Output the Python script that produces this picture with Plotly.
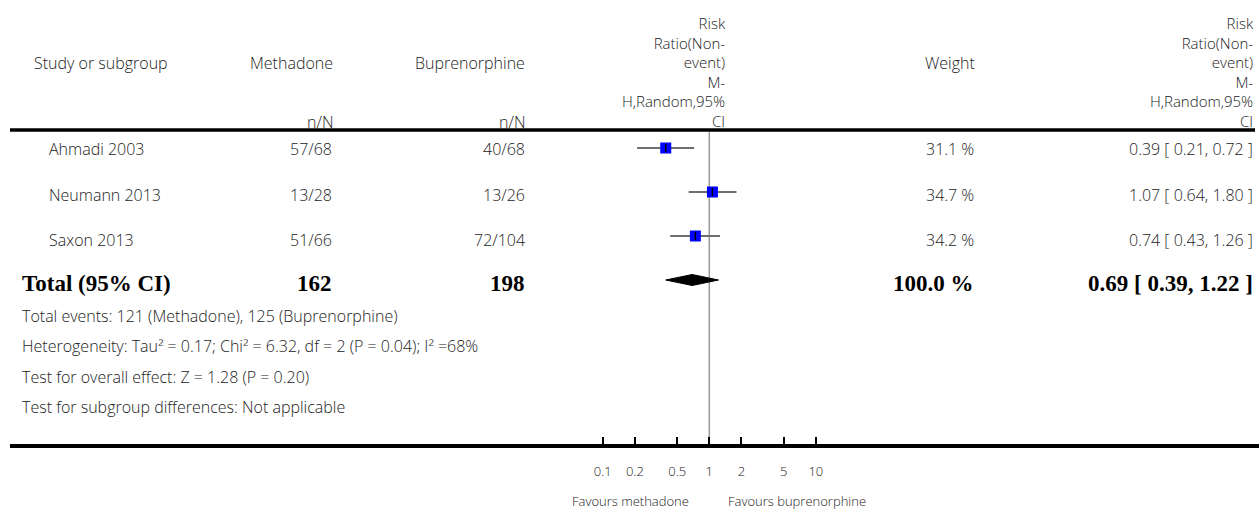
import plotly.graph_objects as go

# ---- data ----
studies = ["Ahmadi 2003", "Neumann 2013", "Saxon 2013"]
methadone_nN = ["57/68", "13/28", "51/66"]
bupren_nN = ["40/68", "13/26", "72/104"]
rr = [0.39, 1.07, 0.74]
rr_lo = [0.21, 0.64, 0.43]
rr_hi = [0.72, 1.80, 1.26]
weights = [31.1, 34.7, 34.2]

total_meth = 162
total_bup = 198
total_weight = 100.0
total_rr, total_lo, total_hi = 0.69, 0.39, 1.22

footnotes = [
    "Total events: 121 (Methadone), 125 (Buprenorphine)",
    "Heterogeneity: Tau² = 0.17; Chi² = 6.32, df = 2 (P = 0.04); I² =68%",
    "Test for overall effect: Z = 1.28 (P = 0.20)",
    "Test for subgroup differences: Not applicable",
]
effect_header = ["Risk", "Ratio(Non-", "event)", "M-", "H,Random,95%", "CI"]
tick_vals = [0.1, 0.2, 0.5, 1, 2, 5, 10]
tick_text = ["0.1", "0.2", "0.5", "1", "2", "5", "10"]

# ---- layout geometry (pixels) ----
W, H = 1259, 510
AXIS_Y = 444          # bottom rule / x-axis line
HEAD_Y = 130          # header rule
ONE_X = 709.3         # pixel of RR = 1
DECADE = 106.5        # pixels per log10 decade
X_LEFT = 10
row_text_y = [149, 195, 240]
row_mark_y = [148, 192, 236]
total_text_y = 283
total_mark_y = 280
foot_y = [316, 346, 377, 407]

r0 = (X_LEFT - ONE_X) / DECADE
r1 = (W - ONE_X) / DECADE

SANS = "Open Sans"
SERIF = "Liberation Serif"
TXT = "#222222"
FS = 16
FS_BOLD = 23


def px(x):
    return x / W


def py(y):
    return 1 - y / H


annotations = []


def label(text, x, y, anchor="left", bold=False, size=FS, align=None):
    annotations.append(dict(
        text=text, x=px(x), y=py(y), xref="paper", yref="paper",
        xanchor=anchor, yanchor="middle", showarrow=False,
        align=align or anchor if anchor != "center" else "center",
        font=dict(family=SERIF if bold else SANS,
                  size=FS_BOLD if bold else size,
                  color="#000000" if bold else TXT,
                  weight="bold" if bold else 300),
    ))


# header
label("Study or subgroup", 32, 63)
label("Methadone", 335, 63, "right")
label("Buprenorphine", 527, 63, "right")
label("n/N", 335, 122, "right")
label("n/N", 527, 122, "right")
label("Weight", 977, 63, "right")
stacked = "<br>".join(effect_header)
label(stacked, 728, 72, "right", size=15, align="right")
label(stacked, 1256, 72, "right", size=15, align="right")

# study rows
for i, s in enumerate(studies):
    y = row_text_y[i]
    label(s, 47, y)
    label(methadone_nN[i], 334, y, "right")
    label(bupren_nN[i], 527, y, "right")
    label(f"{weights[i]:.1f} %", 976, y, "right")
    label(f"{rr[i]:.2f} [ {rr_lo[i]:.2f}, {rr_hi[i]:.2f} ]", 1255, y, "right")

# total row
label("Total (95% CI)", 20, total_text_y, bold=True)
label(str(total_meth), 334, total_text_y, "right", bold=True)
label(str(total_bup), 527, total_text_y, "right", bold=True)
label(f"{total_weight:.1f} %", 976, total_text_y, "right", bold=True)
label(f"{total_rr:.2f} [ {total_lo:.2f}, {total_hi:.2f} ]", 1255, total_text_y, "right", bold=True)

# footnotes
for t, y in zip(footnotes, foot_y):
    label(t, 20, y)

# axis captions
label("Favours methadone", 691, 501, "right", size=13)
label("Favours buprenorphine", 726, 501, "left", size=13)

fig = go.Figure()

# confidence interval lines
ci_x, ci_y = [], []
for lo, hi, y in zip(rr_lo, rr_hi, row_mark_y):
    ci_x += [lo, hi, None]
    ci_y += [y, y, None]
fig.add_trace(go.Scatter(x=ci_x, y=ci_y, mode="lines",
                         line=dict(color="#6e6e6e", width=2),
                         hoverinfo="skip", showlegend=False))

# study point estimates
fig.add_trace(go.Scatter(x=rr, y=row_mark_y, mode="markers",
                         marker=dict(symbol="square", size=11, color="#0000ff",
                                     line=dict(width=0)),
                         showlegend=False))
fig.add_trace(go.Scatter(x=rr, y=row_mark_y, mode="markers",
                         marker=dict(symbol="line-ns", size=6,
                                     line=dict(color="#000000", width=1.5)),
                         hoverinfo="skip", showlegend=False))

# pooled diamond
half_h = 5.5
fig.add_trace(go.Scatter(
    x=[total_lo, total_rr, total_hi, total_rr, total_lo],
    y=[total_mark_y, total_mark_y - half_h, total_mark_y, total_mark_y + half_h, total_mark_y],
    mode="lines", fill="toself", fillcolor="#000000",
    line=dict(color="#000000", width=1), showlegend=False))

shapes = [
    # header rule
    dict(type="line", xref="paper", yref="paper", x0=px(10), x1=px(1255),
         y0=py(HEAD_Y), y1=py(HEAD_Y), line=dict(color="#000000", width=3.5)),
    # line of no effect
    dict(type="line", xref="x", yref="y", x0=1, x1=1, y0=HEAD_Y + 2, y1=AXIS_Y,
         line=dict(color="#9a9a9a", width=1.5), layer="below"),
]

fig.update_layout(
    width=W, height=H,
    margin=dict(l=0, r=0, t=0, b=0),
    paper_bgcolor="#ffffff", plot_bgcolor="#ffffff",
    annotations=annotations, shapes=shapes,
    xaxis=dict(type="log", range=[r0, r1], domain=[px(X_LEFT), 1],
               showgrid=False, zeroline=False,
               showline=True, linecolor="#000000", linewidth=3.5,
               ticks="inside", ticklen=7, tickwidth=2, tickcolor="#000000",
               tickvals=tick_vals, ticktext=tick_text,
               ticklabelstandoff=13,
               tickfont=dict(family=SANS, size=13, color=TXT, weight=300),
               fixedrange=True),
    yaxis=dict(range=[AXIS_Y, 0], domain=[1 - AXIS_Y / H, 1],
               visible=False, fixedrange=True),
)

fig.write_html("out.html")
